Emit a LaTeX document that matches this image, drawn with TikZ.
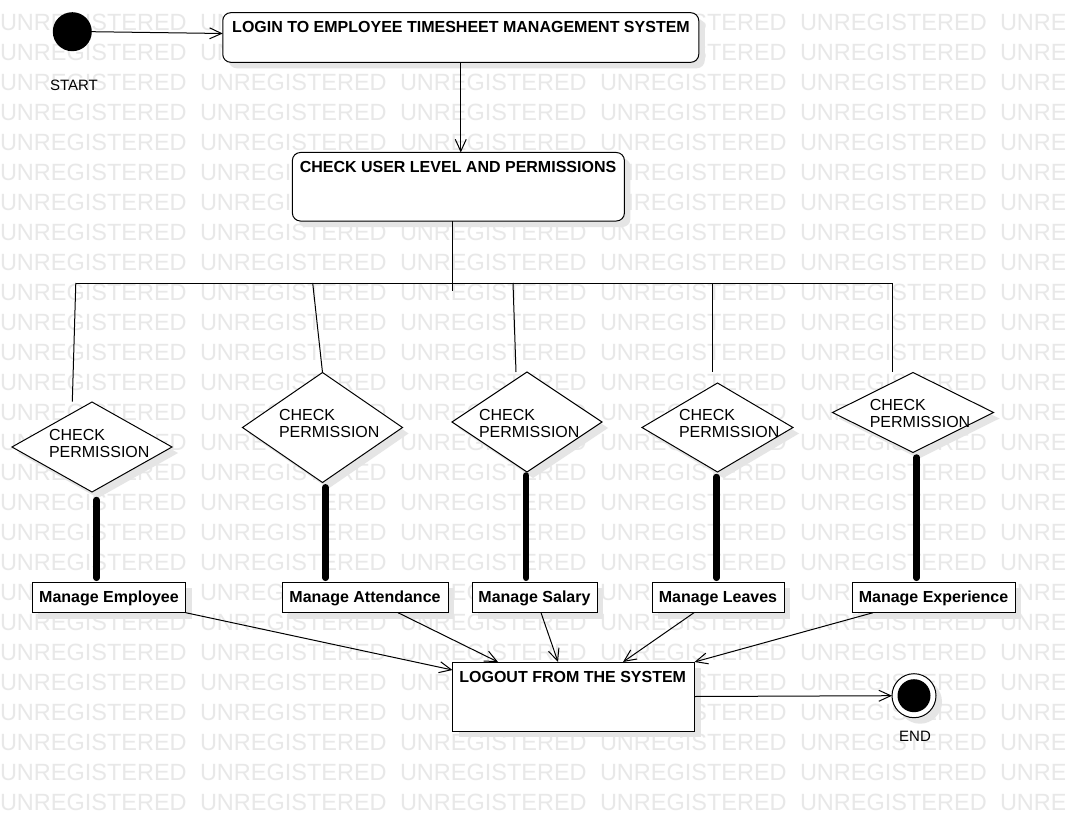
\documentclass[tikz,border=0pt]{standalone}
\usepackage{fontspec}
\setmainfont{Liberation Sans}
\usetikzlibrary{arrows.meta,shapes.geometric,shadows,calc}
\begin{document}
\begin{tikzpicture}[x=1pt,y=-1pt,
  every node/.style={inner sep=0pt, outer sep=0pt},
  shad/.style={drop shadow={shadow xshift=6pt,shadow yshift=-6pt,fill=black!10,opacity=1}},
  wm/.style={anchor=base west, text=black!9, font=\fontsize{23.5}{24}\selectfont},
  rbox/.style={draw, line width=1pt, rounded corners=8pt, fill=white, shad, rectangle},
  sbox/.style={draw, line width=1pt, fill=white, shad, rectangle},
  dia/.style={draw, line width=1pt, fill=white, shad, diamond},
  btxt/.style={anchor=base, font=\fontsize{16}{17}\selectfont\bfseries},
  rtxt/.style={anchor=base west, font=\fontsize{16}{17}\selectfont},
  ltxt/.style={anchor=base, font=\fontsize{15}{16}\selectfont},
  ln/.style={line width=1pt},
  arr/.style={line width=1pt, -{Straight Barb[length=12pt,width=11pt]}},
  bar/.style={line width=6.5pt, line cap=round}
]
\useasboundingbox (0,0) rectangle (1065,821);
\fill[white] (0,0) rectangle (1065,821);
\begin{scope}
\clip (0,0) rectangle (1065,821);
\foreach \r in {0,...,26}{\foreach \c in {0,...,5}{%
  \node[wm] (wm-\r-\c) at (200*\c, 30.8+30*\r) {UNREGISTERED};}}
\end{scope}

% start
\node[circle, fill=black, minimum size=39pt] (start) at (72.3,31.7) {};
\node[ltxt] (starttxt) at (74,90.4) {START};

% top boxes
\node[rbox, minimum width=476pt, minimum height=49.6pt] (login) at (460.75,37.5) {};
\node[btxt] (logintxt) at (461,32.7) {LOGIN TO EMPLOYEE TIMESHEET MANAGEMENT SYSTEM};
\node[rbox, minimum width=332pt, minimum height=68.5pt] (chk) at (458.4,186.75) {};
\node[btxt] (chktxt) at (458,172.7) {CHECK USER LEVEL AND PERMISSIONS};

% diamonds
\node[dia, minimum width=160pt, minimum height=90pt] (d1) at (92,447) {};
\node[dia, minimum width=160pt, minimum height=110pt] (d2) at (322.5,427.5) {};
\node[dia, minimum width=150pt, minimum height=100pt] (d3) at (527,422) {};
\node[dia, minimum width=151pt, minimum height=89pt] (d4) at (717.5,427.5) {};
\node[dia, minimum width=161pt, minimum height=80pt] (d5) at (913,412.5) {};

\node[rtxt] (d1a) at (49,440.7) {CHECK};
\node[rtxt] (d1b) at (49,457.7) {PERMISSION};
\node[rtxt] (d2a) at (279,420.7) {CHECK};
\node[rtxt] (d2b) at (279,437.7) {PERMISSION};
\node[rtxt] (d3a) at (479,420.7) {CHECK};
\node[rtxt] (d3b) at (479,437.7) {PERMISSION};
\node[rtxt] (d4a) at (679,420.7) {CHECK};
\node[rtxt] (d4b) at (679,437.7) {PERMISSION};
\node[rtxt] (d5a) at (869.8,410.7) {CHECK};
\node[rtxt] (d5b) at (869.8,427.4) {PERMISSION};

% manage boxes
\node[sbox, minimum width=153.5pt, minimum height=30.4pt] (emp) at (109,597.5) {};
\node[btxt] (emptxt) at (109,602.5) {Manage Employee};
\node[sbox, minimum width=166pt, minimum height=30.4pt] (att) at (365,597.5) {};
\node[btxt] (atttxt) at (365,602.5) {Manage Attendance};
\node[sbox, minimum width=125pt, minimum height=30.4pt] (sal) at (534.5,597.5) {};
\node[btxt] (saltxt) at (534.5,602.5) {Manage Salary};
\node[sbox, minimum width=132pt, minimum height=30.4pt] (lv) at (718,597.5) {};
\node[btxt] (lvtxt) at (718,602.5) {Manage Leaves};
\node[sbox, minimum width=163pt, minimum height=30.4pt] (exp) at (933.5,597.5) {};
\node[btxt] (exptxt) at (933.5,602.5) {Manage Experience};

% logout and end
\node[sbox, minimum width=242pt, minimum height=69pt] (logout) at (573.5,696.5) {};
\node[btxt] (logouttxt) at (572.7,682.7) {LOGOUT FROM THE SYSTEM};
\node[circle, draw, line width=1pt, fill=white, shad, minimum size=44pt] (endo) at (914,695.7) {};
\node[circle, fill=black, minimum size=33pt] (endi) at (endo) {};
\node[ltxt] (endtxt) at (915,741) {END};

% connectors
\draw[arr] (start.east) -- ($(login.west)+(0,-4)$);
\draw[arr] (login.south) -- (login.south |- chk.north);
\coordinate (fk) at (452.3,291);
\draw[ln] (chk.south -| fk) -- (fk);
\coordinate (f1) at (75.8,283);
\coordinate (f2) at (312.7,283);
\coordinate (f3) at (513,283);
\coordinate (f4) at (712.4,283);
\coordinate (f5) at (892.5,283);
\draw[ln] (f1) -- (f5);
\coordinate (e1) at (72.3,401.7);
\coordinate (e3) at (516,372);
\coordinate (e4) at (712.4,372);
\coordinate (e5) at (892.5,372);
\draw[ln] (f1) -- (e1);
\draw[ln] (f2) -- (d2.north);
\draw[ln] (f3) -- (e3);
\draw[ln] (f4) -- (e4);
\draw[ln] (f5) -- (e5);

\coordinate (t1) at (96.4,500);
\coordinate (t2) at (325.4,487.3);
\coordinate (t3) at (526.2,475.5);
\coordinate (t4) at (716.4,477);
\coordinate (t5) at (916.6,457.5);
\draw[bar, shorten >=4.5pt] (t1) -- (t1 |- emp.north);
\draw[bar, shorten >=4.5pt] (t2) -- (t2 |- att.north);
\draw[bar, shorten >=4.5pt] (t3) -- (t3 |- sal.north);
\draw[bar, shorten >=4.5pt] (t4) -- (t4 |- lv.north);
\draw[bar, shorten >=4.5pt] (t5) -- (t5 |- exp.north);

\draw[arr] (emp.south east) -- ($(logout.north west)+(0,8)$);
\draw[arr] ($(att.south)+(33,0)$) -- ($(logout.north)+(-75.5,0)$);
\draw[arr] ($(sal.south)+(6.5,0)$) -- ($(logout.north)+(-15.5,0)$);
\draw[arr] ($(lv.south)+(-24,0)$) -- ($(logout.north)+(49.5,0)$);
\draw[arr] ($(exp.south)+(-60.5,0)$) -- (logout.north east);
\draw[arr] (logout.east) -- (endo.west);
\end{tikzpicture}
\end{document}
